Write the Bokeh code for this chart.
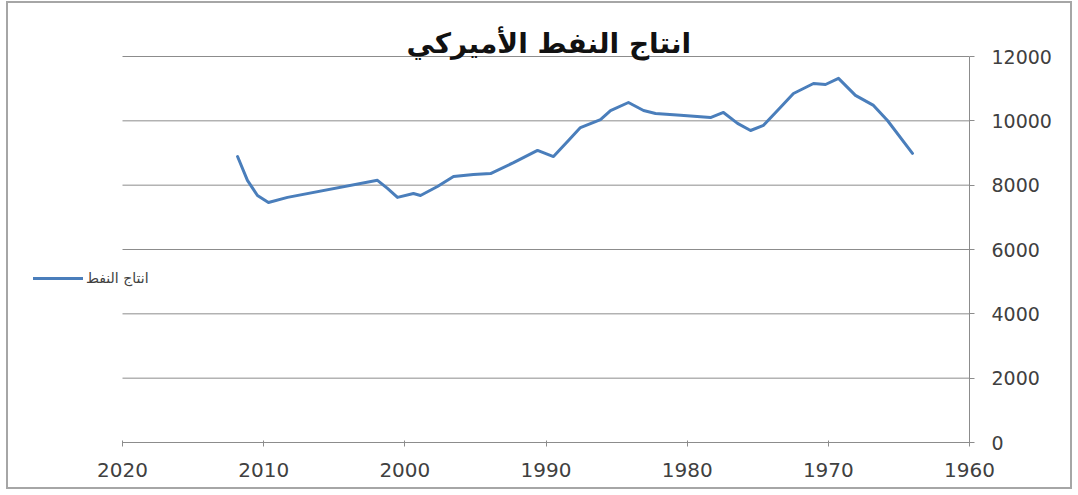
from bokeh.plotting import figure
from bokeh.models import Range1d, Label, Legend, LegendItem, FixedTicker
from bokeh.embed import file_html
from bokeh.resources import INLINE

title_text = "انتاج النفط الأميركي"
series_name = "انتاج النفط"

years = [2011.85, 2011.15, 2010.44, 2009.66, 2008.31, 2001.94, 2001.23, 2000.52, 1999.39,
         1998.89, 1997.69, 1996.55, 1995.14, 1993.93, 1992.30, 1990.60, 1989.47, 1988.41,
         1987.56, 1986.14, 1985.43, 1984.16, 1983.09, 1982.24, 1980.47, 1978.35, 1977.43,
         1976.43, 1975.51, 1974.59, 1973.60, 1972.47, 1971.05, 1970.20, 1969.28, 1968.08,
         1966.80, 1965.81, 1964.04]
production = [8890, 8150, 7680, 7460, 7620, 8150, 7900, 7620, 7740,
              7680, 7960, 8270, 8330, 8360, 8700, 9080, 8890, 9390,
              9790, 10040, 10320, 10570, 10320, 10230, 10170, 10100, 10260,
              9920, 9700, 9860, 10320, 10850, 11160, 11130, 11320, 10790,
              10480, 10010, 8990]

x_ticks = [2020, 2010, 2000, 1990, 1980, 1970, 1960]
y_ticks = [0, 2000, 4000, 6000, 8000, 10000, 12000]

# layout (pixels)
W, H = 1066, 488
FRAME_W, FRAME_H = 961, 439
AXIS_LEFT_PX = 114          # where 2020 sits inside the frame
AXIS_TOP_PX = 53            # where 12000 sits inside the frame
px_per_year = (FRAME_W - AXIS_LEFT_PX) / (x_ticks[0] - x_ticks[-1])
px_per_unit = (FRAME_H - AXIS_TOP_PX) / (y_ticks[-1] - y_ticks[0])
x_start = x_ticks[-1] + FRAME_W / px_per_year
y_end = y_ticks[0] + FRAME_H / px_per_unit

p = figure(width=W, height=H, output_backend="svg", toolbar_location=None,
           x_range=Range1d(x_start, x_ticks[-1]), y_range=Range1d(y_ticks[0], y_end),
           x_axis_location="below", y_axis_location="right",
           min_border_left=0, min_border_top=0,
           min_border_right=W - FRAME_W, min_border_bottom=H - FRAME_H)
p.styles = {"border": "2px solid #a6a6a6", "margin": "1px 0px 0px 6px"}
p.outline_line_color = None
p.background_fill_color = "white"
p.border_fill_color = "white"

p.xgrid.grid_line_color = None
p.ygrid.grid_line_color = None

# horizontal gridlines spanning the axis extent only
p.segment(x0=[x_ticks[0]] * len(y_ticks), x1=[x_ticks[-1]] * len(y_ticks),
          y0=y_ticks, y1=y_ticks, line_color="#8c8c8c", line_width=1)

xa = p.xaxis[0]
xa.bounds = (x_ticks[-1], x_ticks[0])
xa.ticker = FixedTicker(ticks=x_ticks)
xa.axis_line_color = "#8c8c8c"
xa.major_tick_line_color = "#8c8c8c"
xa.major_tick_in = 2
xa.major_tick_out = 4
xa.minor_tick_line_color = None
xa.major_label_text_font = "DejaVu Sans"
xa.major_label_text_font_size = "20px"
xa.major_label_text_color = "#404040"
xa.major_label_standoff = 16

ya = p.yaxis[0]
ya.bounds = (y_ticks[0], y_ticks[-1])
ya.ticker = FixedTicker(ticks=y_ticks)
ya.axis_line_color = "#8c8c8c"
ya.major_tick_line_color = "#8c8c8c"
ya.major_tick_in = 0
ya.major_tick_out = 5
ya.minor_tick_line_color = None
ya.major_label_text_font = "DejaVu Sans"
ya.major_label_text_font_size = "19px"
ya.major_label_text_color = "#404040"
ya.major_label_standoff = 17

r = p.line(years, production, line_color="#4a7ebb", line_width=3,
           line_join="round", line_cap="round")

legend = Legend(items=[LegendItem(label=series_name, renderers=[r])],
                location=(25, 156), orientation="vertical",
                glyph_width=50, glyph_height=16, label_height=16,
                label_standoff=3, padding=0, margin=0, spacing=0,
                label_text_font="DejaVu Sans", label_text_font_size="14px",
                label_text_color="#404040",
                border_line_color=None, background_fill_alpha=0)
p.add_layout(legend, "center")

title = Label(x=1989.8, y=y_ticks[-1], y_offset=13, text=title_text,
              text_align="center", text_baseline="middle",
              text_font="DejaVu Sans", text_font_style="bold",
              text_font_size="28px", text_color="#111111")
p.add_layout(title)

open("out.html", "w").write(file_html(p, INLINE))
